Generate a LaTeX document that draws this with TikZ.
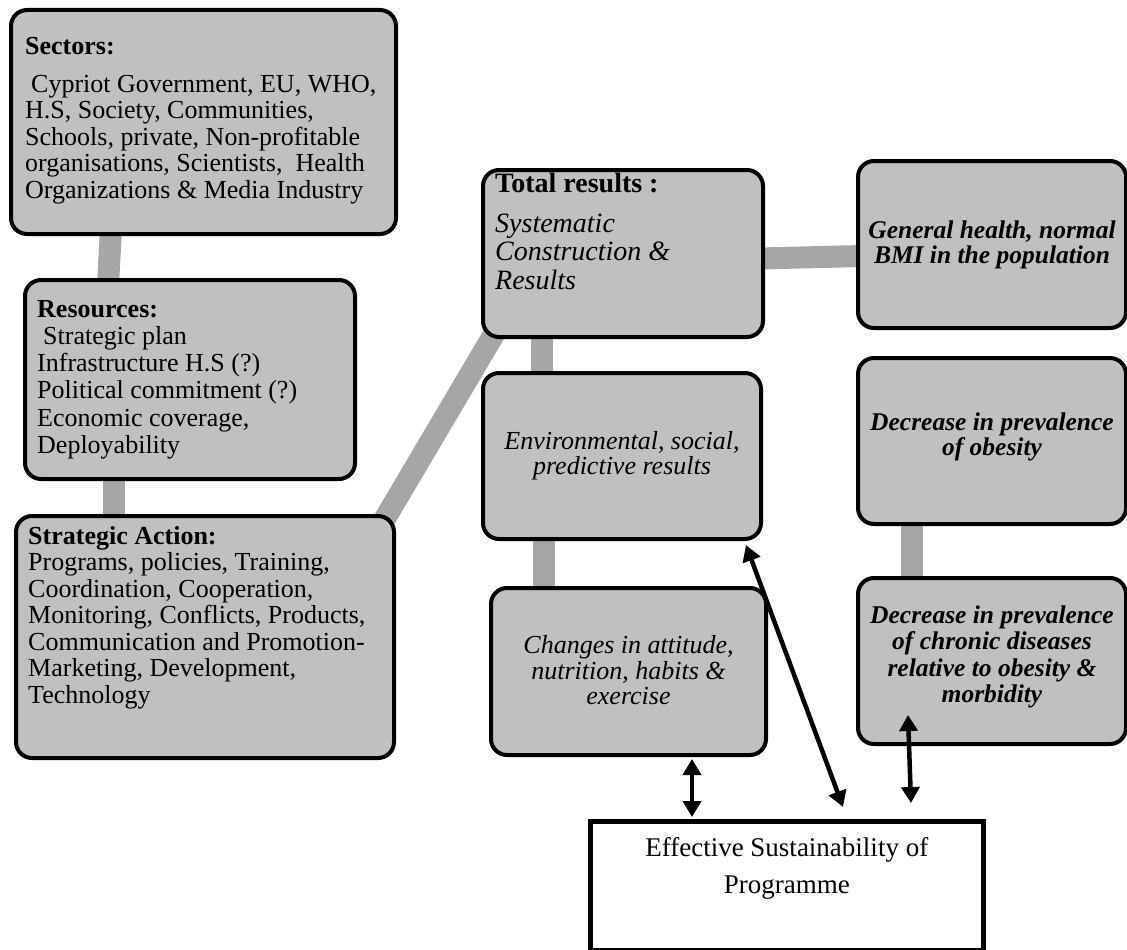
\documentclass[tikz,border=0pt]{standalone}
\usepackage{fontspec}
\setmainfont{Liberation Serif}
\usetikzlibrary{arrows.meta,backgrounds,calc}
\definecolor{boxgray}{HTML}{C0C0C0}
\definecolor{bargray}{HTML}{A6A6A6}
\begin{document}
\begin{tikzpicture}[x=1pt,y=-1pt,
  box/.style={draw=black,line width=4pt,fill=boxgray,rounded corners=16pt,inner sep=0pt,anchor=north west},
  plainbox/.style={draw=black,line width=4.5pt,fill=white,inner sep=0pt,anchor=north west},
  txt/.style={inner sep=0pt,align=left,anchor=north west,font=\fontsize{26}{26.5}\selectfont},
  ctxt/.style={inner sep=0pt,align=center,font=\fontsize{26}{26.5}\selectfont},
  bar/.style={line width=22pt,draw=bargray},
  arr/.style={line width=4.5pt,{Triangle[length=16pt,width=18pt]}-{Triangle[length=16pt,width=18pt]}}]
\useasboundingbox (0,0) rectangle (1127,950);

% boxes
\node[box,minimum width=385pt,minimum height=224pt] (sectors) at (9,8) {};
\node[box,minimum width=330pt,minimum height=199pt] (resources) at (23,278) {};
\node[box,minimum width=378pt,minimum height=242pt] (strategic) at (14,514) {};
\node[box,minimum width=280pt,minimum height=167pt] (total) at (481,168) {};
\node[box,minimum width=268pt,minimum height=167pt] (general) at (856,159) {};
\node[box,minimum width=278pt,minimum height=166pt] (environ) at (481,371) {};
\node[box,minimum width=268pt,minimum height=166pt] (obesity) at (856,356) {};
\node[box,minimum width=275pt,minimum height=167pt] (changes) at (489,586) {};
\node[box,minimum width=268pt,minimum height=166pt] (chronic) at (856,576) {};
\node[plainbox,minimum width=393pt,minimum height=128.5pt] (effective) at (588,819) {};

% texts
\node[txt] (tsectors) at (25,37) {\textbf{Sectors:}\\[11.5pt]
\hspace{6pt}Cypriot Government, EU, WHO,\\
H.S, Society, Communities,\\
Schools, private, Non-profitable\\
organisations, Scientists,\ \ Health\\
Organizations \& Media Industry};

\node[txt,font=\fontsize{26}{27.2}\selectfont] (tresources) at (37,300) {\textbf{Resources:}\\
\hspace{6pt}Strategic plan\\
Infrastructure H.S (?)\\
Political commitment (?)\\
Economic coverage,\\
Deployability};

\node[txt] (tstrategic) at (28,526) {\textbf{Strategic Action:}\\
Programs, policies, Training,\\
Coordination, Cooperation,\\
Monitoring, Conflicts, Products,\\
Communication and Promotion-\\
Marketing, Development,\\
Technology};

\node[txt,font=\fontsize{28}{28.2}\selectfont] (ttotal) at (495,173) {\textbf{Total results :}\\[11.8pt]
\textit{Systematic}\\
\textit{Construction \&}\\
\textit{Results}};

\node[ctxt,font=\fontsize{25.5}{25}\selectfont\bfseries\itshape] (tgeneral) at ($(general.center)+(0,0)$) {General health, normal\\BMI in the population};
\node[ctxt,font=\fontsize{26}{25}\selectfont\itshape] (tenviron) at ($(environ.center)+(0,0)$) {Environmental, social,\\predictive results};
\node[ctxt,font=\fontsize{25.5}{25}\selectfont\bfseries\itshape] (tobesity) at ($(obesity.center)+(0,-4)$) {Decrease in prevalence\\of obesity};
\node[ctxt,font=\fontsize{26}{25.5}\selectfont\itshape] (tchanges) at ($(changes.center)+(0,-1)$) {Changes in attitude,\\nutrition, habits \&\\exercise};
\node[ctxt,font=\fontsize{25.5}{26.5}\selectfont\bfseries\itshape] (tchronic) at ($(chronic.center)+(0,-4)$) {Decrease in prevalence\\of chronic diseases\\relative to obesity \&\\morbidity};
\node[ctxt,anchor=north,font=\fontsize{27}{37}\selectfont] (teffective) at ($(effective.north)+(0,18)$) {Effective Sustainability of\\Programme};

% grey connectors behind the boxes
\begin{scope}[on background layer]
\fill[white] (0,0) rectangle (1127,950);
\draw[bar] ([xshift=102pt,yshift=6pt]sectors.south west) -- ([xshift=85pt,yshift=-6pt]resources.north west);
\draw[bar] ([xshift=91pt,yshift=6pt]resources.south west) -- ([xshift=100pt,yshift=-6pt]strategic.north west);
\draw[bar] ([xshift=-16pt,yshift=-13pt]strategic.north east) -- ([xshift=19pt,yshift=15pt]total.south west);
\draw[bar] ([xshift=-6pt,yshift=-5pt]total.east) -- ([xshift=6pt,yshift=-11.5pt]general.west);
\draw[bar] ([xshift=61pt,yshift=6pt]total.south west) -- ([xshift=61pt,yshift=-6pt]environ.north west);
\draw[bar] ([xshift=63pt,yshift=6pt]environ.south west) -- ([xshift=55pt,yshift=-6pt]changes.north west);
\draw[bar] ([xshift=56pt,yshift=6pt]obesity.south west) -- ([xshift=56pt,yshift=-6pt]chronic.north west);
\end{scope}

% arrows
\draw[arr] ([xshift=203pt,yshift=-2pt]changes.south west) -- ([xshift=104pt,yshift=2pt]effective.north west);
\draw[arr] ([xshift=-17pt,yshift=-4pt]environ.south east) -- ([xshift=255pt,yshift=12pt]effective.north west);
\draw[arr] ([xshift=52pt,yshift=31pt]chronic.south west) -- ([xshift=323pt,yshift=16pt]effective.north west);
\end{tikzpicture}
\end{document}
